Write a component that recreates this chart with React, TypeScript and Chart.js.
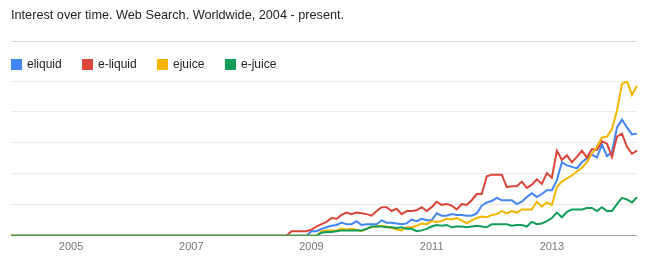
import React, { useEffect, useRef } from 'react';
import { Chart, registerables } from 'chart.js';

Chart.register(...registerables);

const titleText = 'Interest over time. Web Search. Worldwide, 2004 - present.';

const startYear = 2004;
const monthCount = 126;
const months: string[] = [];
for (let i = 0; i < monthCount; i++) {
  const y = startYear + Math.floor(i / 12);
  const m = (i % 12) + 1;
  months.push(`${y}-${m < 10 ? '0' : ''}${m}`);
}

const yearTickLabels = ['2005', '2007', '2009', '2011', '2013'];

const seriesNames = ['eliquid', 'e-liquid', 'ejuice', 'e-juice'];
const seriesColors = ['#4285f4', '#db4437', '#f4b400', '#0f9d58'];

const eliquid = [
  0, 0, 0, 0, 0, 0, 0, 0, 0, 0, 0, 0,
  0, 0, 0, 0, 0, 0, 0, 0, 0, 0, 0, 0,
  0, 0, 0, 0, 0, 0, 0, 0, 0, 0, 0, 0,
  0, 0, 0, 0, 0, 0, 0, 0, 0, 0, 0, 0,
  0, 0, 0, 0, 0, 0, 0, 0, 0, 0, 0, 0,
  3, 3, 4.5, 5.5, 6.5, 7, 8.5, 7.5, 7.5, 9.5, 7, 7.5,
  7.5, 7.5, 10, 8.5, 8.5, 8, 7.5, 8, 10.5, 9.5, 11, 10,
  10, 14.5, 13, 13, 14, 13.5, 13.5, 13, 13, 14.5, 19.5, 21.5,
  22.5, 24.5, 23, 23, 23, 20.5, 22, 25, 27.5, 25, 27, 29.5,
  29.5, 36, 47.5, 45.5, 44.5, 43.5, 47.5, 50, 52.5, 50.5, 59, 51.5,
  54, 70, 75, 70, 65.5, 66,
];

const eLiquid = [
  0, 0, 0, 0, 0, 0, 0, 0, 0, 0, 0, 0,
  0, 0, 0, 0, 0, 0, 0, 0, 0, 0, 0, 0,
  0, 0, 0, 0, 0, 0, 0, 0, 0, 0, 0, 0,
  0, 0, 0, 0, 0, 0, 0, 0, 0, 0, 0, 0,
  0, 0, 0, 0, 0, 0, 0, 0, 3, 3, 3, 3,
  4, 6, 7.5, 9, 11.5, 11, 13.5, 15, 14, 15, 14.5, 14,
  13, 16, 18.5, 18.5, 16, 17.5, 14, 16, 16, 16.5, 18.5, 16,
  18.5, 22, 20, 20.5, 19.5, 17, 20.5, 20, 23, 27, 27, 38.5,
  39.5, 39.5, 39.5, 31.5, 32, 32, 35, 31, 33, 36.5, 33.5, 40.5,
  37.5, 55, 49, 52, 47.5, 51, 55, 50.5, 56, 55.5, 61, 59.5,
  51, 64, 66, 57.5, 53, 55,
];

const ejuice = [
  0, 0, 0, 0, 0, 0, 0, 0, 0, 0, 0, 0,
  0, 0, 0, 0, 0, 0, 0, 0, 0, 0, 0, 0,
  0, 0, 0, 0, 0, 0, 0, 0, 0, 0, 0, 0,
  0, 0, 0, 0, 0, 0, 0, 0, 0, 0, 0, 0,
  0, 0, 0, 0, 0, 0, 0, 0, 0, 0, 0, 0,
  0, 0, 3, 3.5, 3.5, 3.5, 4.5, 4, 4.5, 4, 3, 4.5,
  5.5, 6, 6.5, 6, 5, 4, 3.5, 5.5, 5.5, 6.5, 8, 7.5,
  9.5, 9, 9.5, 11, 10.5, 11.5, 10, 8, 10, 11.5, 12.5, 12,
  13.5, 14, 16, 14.5, 16, 15, 17, 17, 17, 22, 19, 21.5,
  20, 31.5, 35, 37, 39, 41.5, 44, 47.5, 53, 57.5, 63.5, 64,
  69, 81, 98, 100, 91, 97,
];

const eJuice = [
  0, 0, 0, 0, 0, 0, 0, 0, 0, 0, 0, 0,
  0, 0, 0, 0, 0, 0, 0, 0, 0, 0, 0, 0,
  0, 0, 0, 0, 0, 0, 0, 0, 0, 0, 0, 0,
  0, 0, 0, 0, 0, 0, 0, 0, 0, 0, 0, 0,
  0, 0, 0, 0, 0, 0, 0, 0, 0, 0, 0, 0,
  0, 0, 2, 2.5, 2.5, 3, 3.5, 3.5, 3.5, 3.5, 3.5, 4.5,
  6, 6, 6, 5.5, 5.5, 5, 5.5, 4.5, 4.5, 3, 3.5, 4.5,
  6, 7, 6.5, 7, 5.5, 6, 6, 5.5, 6, 6.5, 6, 5.5,
  7.5, 7.5, 7.5, 7.5, 6.5, 7, 7, 6, 9, 7.5, 8, 9.5,
  11.5, 15, 12, 15.5, 17, 17, 17, 18, 18, 16, 18.5, 16,
  16, 20.5, 24.5, 23.5, 21.5, 25,
];

const seriesValues = [eliquid, eLiquid, ejuice, eJuice];
const drawOrder = [3, 2, 1, 0];

const FONT = '"Liberation Sans", Arial, Helvetica, sans-serif';

const headerPlugin = {
  id: 'trendsHeader',
  afterDraw(chart: any) {
    const { ctx, chartArea } = chart;
    ctx.save();
    ctx.textAlign = 'left';
    ctx.textBaseline = 'middle';
    ctx.font = `12.7px ${FONT}`;
    ctx.fillStyle = '#222222';
    ctx.fillText(titleText, chartArea.left, 15.5);

    ctx.strokeStyle = '#d9d9d9';
    ctx.lineWidth = 1;
    ctx.beginPath();
    ctx.moveTo(chartArea.left, 41.5);
    ctx.lineTo(chartArea.right, 41.5);
    ctx.stroke();

    ctx.font = `12px ${FONT}`;
    let x = chartArea.left;
    chart.data.datasets.forEach((ds: any) => {
      ctx.fillStyle = ds.borderColor;
      ctx.fillRect(Math.round(x), 59, 11, 11);
      ctx.fillStyle = '#222222';
      ctx.fillText(ds.label, Math.round(x) + 16, 65);
      x += 15.5 + ctx.measureText(ds.label).width + 21;
    });
    ctx.restore();
  },
};

export default function App() {
  const canvasRef = useRef<HTMLCanvasElement | null>(null);

  useEffect(() => {
    if (!canvasRef.current) return;
    const chart = new Chart(canvasRef.current, {
      type: 'line',
      data: {
        labels: months,
        datasets: seriesNames.map((name, k) => ({
          label: name,
          data: seriesValues[k],
          borderColor: seriesColors[k],
          backgroundColor: seriesColors[k],
          borderWidth: 2,
          pointRadius: 0,
          pointHoverRadius: 0,
          tension: 0,
          fill: false,
          order: drawOrder[k],
        })),
      },
      options: {
        animation: false,
        responsive: false,
        events: [],
        layout: { padding: { left: 11, right: 13, top: 81, bottom: 2 } },
        plugins: {
          legend: { display: false },
          title: { display: false },
          tooltip: { enabled: false },
        },
        scales: {
          x: {
            type: 'category',
            grid: { display: false, drawTicks: false },
            border: { display: false },
            ticks: {
              autoSkip: false,
              maxRotation: 0,
              minRotation: 0,
              padding: 5,
              color: '#777777',
              font: { family: FONT, size: 11 },
              callback: (_v: any, index: number) => {
                const lab = months[index];
                if (!lab || !lab.endsWith('-01')) return '';
                const yr = lab.slice(0, 4);
                return yearTickLabels.includes(yr) ? yr : '';
              },
            },
          },
          y: {
            min: 0,
            max: 100,
            grid: {
              drawTicks: false,
              color: (c: any) => (c.tick && c.tick.value === 0 ? '#a6a6a6' : '#ebebeb'),
              lineWidth: 1,
            },
            border: { display: false },
            ticks: { display: false, stepSize: 20 },
          },
        },
      },
      plugins: [headerPlugin],
    });
    return () => chart.destroy();
  }, []);

  return (
    <div style={{ position: 'fixed', left: 0, top: 0, width: 650, height: 261, background: '#ffffff' }}>
      <canvas ref={canvasRef} width={650} height={261} />
    </div>
  );
}
